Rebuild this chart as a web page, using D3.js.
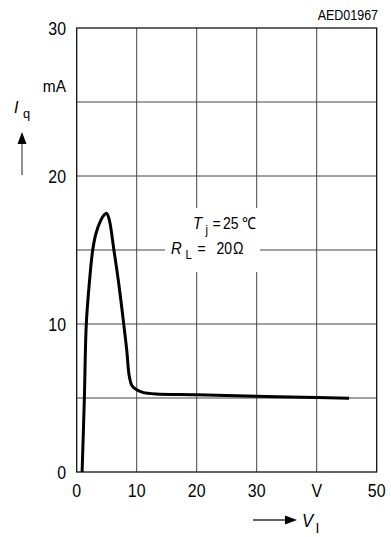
<!DOCTYPE html>
<html><head><meta charset="utf-8">
<script src="https://cdn.jsdelivr.net/npm/d3@7"></script>
<style>body{margin:0;background:#fff}svg{display:block}text{font-family:"Liberation Sans",Arial,sans-serif;fill:#000}</style>
</head><body><svg id="c" width="391" height="537"></svg>
<script>
const voltage = [0.9, 1.27, 1.6, 2.1, 2.67, 3.2, 4.05, 4.6, 5.0, 5.45, 6.2, 7.0, 7.75, 8.35, 8.75, 9.2, 10.0, 11.0, 13.2, 20, 30, 40, 45.4];
const current = [0, 4.86, 10, 12.75, 15, 16.1, 17.03, 17.38, 17.48, 17.0, 15, 12.75, 10.3, 8.2, 6.5, 5.85, 5.55, 5.38, 5.27, 5.22, 5.12, 5.03, 4.98];
const xTicks = [0, 10, 20, 30, 40, 50];
const xTickLabels = ["0", "10", "20", "30", "V", "50"];
const yTicks = [0, 10, 20, 30];
const yGrid = [5, 10, 15, 20, 25];
const xGrid = [10, 20, 30, 40];

const svg = d3.select("#c");
const x = d3.scaleLinear().domain([0, 50]).range([76.7, 376.7]);
const y = d3.scaleLinear().domain([0, 30]).range([472, 28]);

function txt(px, py, str, size, anchor, sx, opts) {
  const t = svg.append("text")
    .attr("transform", `translate(${px},${py}) scale(${sx},1)`)
    .attr("font-size", size).attr("text-anchor", anchor || "start").text(str);
  if (opts) Object.entries(opts).forEach(([k, v]) => t.attr(k, v));
  return t;
}

// grid
svg.append("g").selectAll("line").data(xGrid).join("line")
  .attr("x1", d => x(d)).attr("x2", d => x(d)).attr("y1", y(30)).attr("y2", y(0))
  .attr("stroke", "#444").attr("stroke-width", 1);
svg.append("g").selectAll("line").data(yGrid).join("line")
  .attr("x1", x(0)).attr("x2", x(50)).attr("y1", d => y(d)).attr("y2", d => y(d))
  .attr("stroke", "#444").attr("stroke-width", 1);
// frame
svg.append("rect").attr("x", x(0)).attr("y", y(30)).attr("width", x(50) - x(0)).attr("height", y(0) - y(30))
  .attr("fill", "none").attr("stroke", "#111").attr("stroke-width", 1.3);

// annotation box (hides grid)
svg.append("rect").attr("x", 165).attr("y", 208).attr("width", 95).attr("height", 64).attr("fill", "#fff");

// curve
const pts = voltage.map((v, i) => [v, current[i]]);
svg.append("path").datum(pts)
  .attr("d", d3.line().x(d => x(d[0])).y(d => y(d[1])).curve(d3.curveCatmullRom.alpha(0.5)))
  .attr("fill", "none").attr("stroke", "#000").attr("stroke-width", 3).attr("stroke-linejoin", "round");

// tick labels
yTicks.forEach(d => txt(66, y(d) + 7, String(d), 18.5, "end", 0.86));
xTicks.forEach((d, i) => txt(x(d), 497, xTickLabels[i], 18.5, "middle", 0.86));

// units & axis titles
txt(66, 92, "mA", 16.3, "end", 0.95);
txt(14, 113, "I", 16, "start", 1, {"font-family": "Liberation Serif, serif", "font-style": "italic"});
txt(23, 118, "q", 13.5, "start", 0.95);
// up arrow
svg.append("line").attr("x1", 22).attr("x2", 22).attr("y1", 175).attr("y2", 142).attr("stroke", "#555").attr("stroke-width", 1.3);
svg.append("path").attr("d", "M22,132 L17.5,144 L26.5,144 Z").attr("fill", "#000");
// right arrow
svg.append("line").attr("x1", 253).attr("x2", 287).attr("y1", 520).attr("y2", 520).attr("stroke", "#333").attr("stroke-width", 1.3);
svg.append("path").attr("d", "M297,520 L285,515.5 L285,524.5 Z").attr("fill", "#000");
txt(302, 527, "V", 18.5, "start", 0.9, {"font-style": "italic"});
txt(315.5, 533, "I", 14, "start", 1, {"font-family": "Liberation Serif, serif"});

// annotation text
txt(193, 229, "T", 16.5, "start", 0.9, {"font-style": "italic"});
txt(205.5, 234, "j", 12.5, "start", 0.9);
txt(212.5, 229, "=", 16.5, "start", 0.85);
txt(223, 229, "25", 16.5, "start", 0.85);
txt(242, 229, "℃", 16.5, "start", 0.85);
txt(171, 254, "R", 16.5, "start", 0.9, {"font-style": "italic"});
txt(185.5, 259, "L", 12.5, "start", 0.9);
txt(197.5, 254, "=", 16.5, "start", 0.85);
txt(216.5, 254, "20", 16.5, "start", 0.85);
txt(233, 254, "Ω", 16.5, "start", 0.85);

// id
txt(378, 20, "AED01967", 14, "end", 0.89);
</script></body></html>
